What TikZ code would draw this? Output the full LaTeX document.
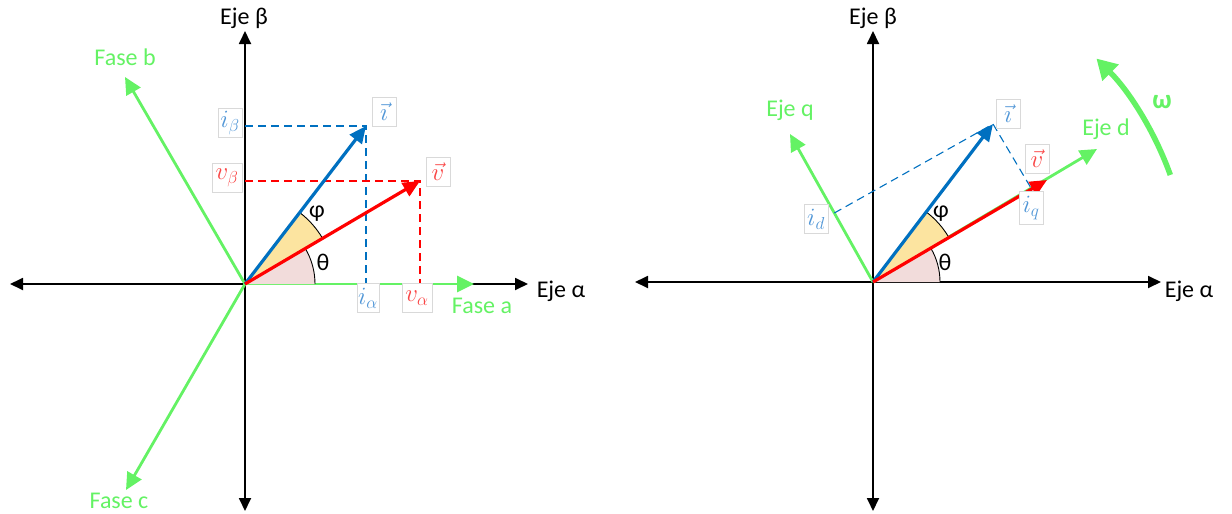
\documentclass[tikz,border=0pt]{standalone}
\usepackage{fontspec}
\setmainfont{Carlito}
\usetikzlibrary{arrows.meta,calc}
\definecolor{fgreen}{RGB}{100,242,100}
\definecolor{vblue}{RGB}{0,112,192}
\definecolor{vred}{RGB}{255,0,0}
\definecolor{lblue}{RGB}{80,150,215}
\definecolor{lred}{RGB}{250,70,70}
\definecolor{wpink}{RGB}{242,220,219}
\definecolor{wyellow}{RGB}{252,228,160}
\begin{document}
\begin{tikzpicture}[x=1pt,y=-1pt,
  axis/.style={line width=1.8pt,-{Triangle[length=13pt,width=12pt]}},
  gvec/.style={line width=2.8pt,fgreen,-{Triangle[length=17pt,width=16pt]}},
  bvec/.style={line width=3.2pt,vblue,-{Triangle[length=17pt,width=15pt]}},
  rvec/.style={line width=3.2pt,vred,-{Triangle[length=17pt,width=15pt]}},
  bdash/.style={line width=1.1pt,vblue,dash pattern=on 8pt off 5pt},
  rdash/.style={line width=1.1pt,vred,dash pattern=on 8pt off 5pt},
  txt/.style={font=\fontsize{24}{27}\selectfont},
  gtxt/.style={txt,text=fgreen},
  mbox/.style={draw=black!15,line width=0.8pt,fill=white,inner sep=0pt,minimum width=24pt,minimum height=29pt,font=\fontsize{27}{29}\selectfont},
  warc/.style={line width=0.9pt,black}
]
\useasboundingbox (0,0) rectangle (1232,514);

%================ LEFT =================
\coordinate (O1) at (245,284);
\coordinate (L1l) at (10,284);
\coordinate (L1r) at (528,284);
\coordinate (L1t) at (245,31);
\coordinate (L1b) at (245,511);
\coordinate (fa) at (474,284);
\coordinate (fb) at (125,77);
\coordinate (fc) at (126,490);
\coordinate (i1) at (366,126);
\coordinate (v1) at (420,181);
\coordinate (ib1) at (245,126);
\coordinate (vb1) at (245,181);
\coordinate (ia1) at (366,284);
\coordinate (va1) at (420,284);

\draw[axis] (O1) -- (L1l);
\draw[axis] (O1) -- (L1r);
\draw[axis] (O1) -- (L1t);
\draw[axis] (O1) -- (L1b);

\draw[gvec] (O1) -- (fa);
\draw[gvec] (O1) -- (fb);
\draw[gvec] (O1) -- (fc);

\fill[wyellow] (O1) -- ++(-30.6:90) arc[start angle=-30.6,end angle=-52.6,radius=90] -- cycle;
\draw[warc] ($(O1)+(-30.6:90)$) arc[start angle=-30.6,end angle=-52.6,radius=90];
\fill[wpink] (O1) -- ++(0:70) arc[start angle=0,end angle=-30.6,radius=70] -- cycle;
\draw[warc] ($(O1)+(0:70)$) arc[start angle=0,end angle=-30.6,radius=70];

\draw[bdash] (ib1) -- (i1) -- (ia1);
\draw[rdash] (vb1) -- (v1) -- (va1);

\draw[bvec] (O1) -- (i1);
\draw[rvec] (O1) -- (v1);

\node[txt] (theta1) at (323,262) {θ};
\node[txt] (phi1) at (317,214) {φ};

\node[mbox,text=lblue] (lib1) at (230,123) {$i_\beta$};
\node[mbox,text=lred,minimum width=30pt] (lvb1) at (227,178) {$v_\beta$};
\node[mbox,text=lblue,minimum width=22pt] (lia1) at (368,298) {$i_\alpha$};
\node[mbox,text=lred,minimum width=30pt] (lva1) at (417,298) {$v_\alpha$};
\node[mbox,text=lblue] (li1) at (384,112) {$\vec{\imath}$};
\node[mbox,text=lred] (lv1) at (438,172) {$\vec{v}$};

\node[txt] (ejeb1) at (244,18) {Eje β};
\node[txt] (ejea1) at (561,291) {Eje α};
\node[gtxt] (fasea) at (482,306) {Fase a};
\node[gtxt] (faseb) at (125,57) {Fase b};
\node[gtxt] (fasec) at (119,501) {Fase c};

%================ RIGHT =================
\coordinate (O2) at (873,282);
\coordinate (L2l) at (635,282);
\coordinate (L2r) at (1161,282);
\coordinate (L2t) at (873,31);
\coordinate (L2b) at (873,511);
\coordinate (ed) at (1097,149);
\coordinate (eq) at (790,134);
\coordinate (i2) at (993,124);
\coordinate (v2) at (1047,180);
\coordinate (id2) at ($(O2)!(i2)!(eq)$);
\coordinate (iq2) at ($(O2)!(i2)!(ed)$);

\draw[axis] (O2) -- (L2l);
\draw[axis] (O2) -- (L2r);
\draw[axis] (O2) -- (L2t);
\draw[axis] (O2) -- (L2b);

\draw[gvec] (O2) -- (ed);
\draw[gvec] (O2) -- (eq);

\fill[wyellow] (O2) -- ++(-30.4:88) arc[start angle=-30.4,end angle=-52.8,radius=88] -- cycle;
\draw[warc] ($(O2)+(-30.4:88)$) arc[start angle=-30.4,end angle=-52.8,radius=88];
\fill[wpink] (O2) -- ++(0:67) arc[start angle=0,end angle=-30.4,radius=67] -- cycle;
\draw[warc] ($(O2)+(0:67)$) arc[start angle=0,end angle=-30.4,radius=67];

\draw[bdash] (id2) -- (i2) -- (iq2);

\draw[bvec] (O2) -- (i2);
\draw[rvec] (O2) -- (v2);

\node[txt] (theta2) at (945,262) {θ};
\node[txt] (phi2) at (941,214) {φ};

\node[mbox,text=lblue] (lid2) at (816,219) {$i_d$};
\node[mbox,text=lblue,minimum height=33pt] (liq2) at (1031,208) {$i_q$};
\node[mbox,text=lblue] (li2) at (1008,114) {$\vec{\imath}$};
\node[mbox,text=lred] (lv2) at (1037,159) {$\vec{v}$};

\node[txt] (ejeb2) at (873,18) {Eje β};
\node[txt] (ejea2) at (1189,291) {Eje α};
\node[gtxt] (ejed) at (1106,129) {Eje d};
\node[gtxt] (ejeq) at (790,110) {Eje q};

\coordinate (w0) at ($(O2)+(-19.8:316)$);
\draw[line width=5.5pt,fgreen,-{Triangle[length=20pt,width=22pt]}] (w0) arc[start angle=-19.8,end angle=-45,radius=316];
\node[text=fgreen,font=\fontsize{27}{28}\selectfont\bfseries] (omega) at (1162,102) {ω};
\end{tikzpicture}
\end{document}
